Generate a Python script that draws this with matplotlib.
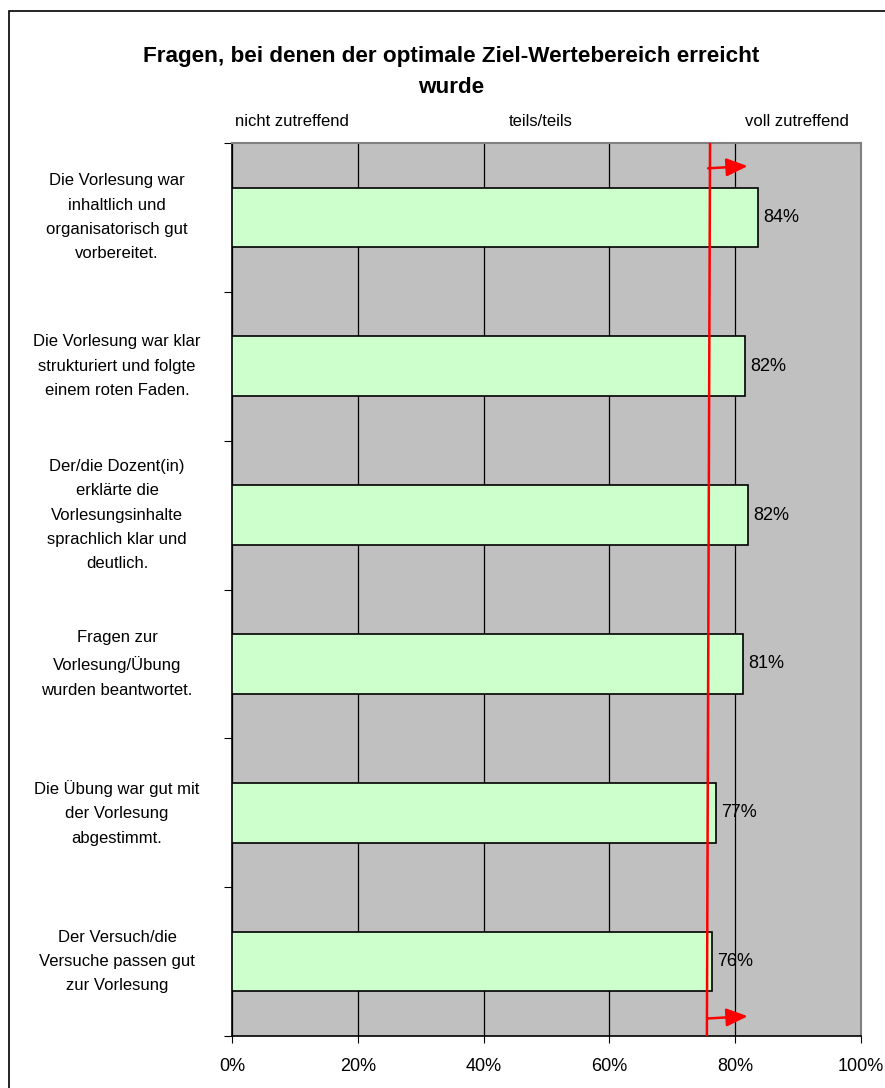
import matplotlib.pyplot as plt
from matplotlib.patches import Rectangle

# data
questions = [
    "Die Vorlesung war\ninhaltlich und\norganisatorisch gut\nvorbereitet.",
    "Die Vorlesung war klar\nstrukturiert und folgte\neinem roten Faden.",
    "Der/die Dozent(in)\nerklärte die\nVorlesungsinhalte\nsprachlich klar und\ndeutlich.",
    "Fragen zur\nVorlesung/Übung\nwurden beantwortet.",
    "Die Übung war gut mit\nder Vorlesung\nabgestimmt.",
    "Der Versuch/die\nVersuche passen gut\nzur Vorlesung",
]
values = [0.837, 0.816, 0.820, 0.812, 0.770, 0.763]
value_labels = ["84%", "82%", "82%", "81%", "77%", "76%"]
x_ticks = [0, 0.2, 0.4, 0.6, 0.8, 1.0]
x_tick_labels = ["0%", "20%", "40%", "60%", "80%", "100%"]
scale_labels = ["nicht zutreffend", "teils/teils", "voll zutreffend"]
target_top, target_bottom = 0.760, 0.755
arrow_end = 0.82

plt.rcParams['font.family'] = ['Liberation Sans', 'DejaVu Sans']

fig = plt.figure(figsize=(8.85, 10.88), dpi=100)
W, H = 885, 1088

# outer chart border (runs off the right and bottom edge)
fig.patches.append(Rectangle((9 / W, -0.1), 1.2, 1 - 11 / H + 0.1,
                             transform=fig.transFigure, fill=False,
                             edgecolor='black', linewidth=1.2))

ax = fig.add_axes([232 / W, 52 / H, 629 / W, 893 / H])
ax.set_facecolor('#c0c0c0')

pos = list(range(len(questions)))
ax.barh(pos, values, height=0.4, color='#ccffcc', edgecolor='black', linewidth=1.2, zorder=3)
for p, v, lab in zip(pos, values, value_labels):
    ax.text(v + 0.008, p, lab, va='center', ha='left', fontsize=13, zorder=5)

ax.set_xlim(0, 1)
ax.set_ylim(len(questions) - 0.5, -0.5)
ax.set_xticks(x_ticks)
ax.set_xticklabels(x_tick_labels, fontsize=13)
ax.tick_params(axis='x', direction='out', length=5, pad=11)
ax.xaxis.grid(True, color='black', linewidth=0.9, zorder=1)
ax.set_axisbelow(True)

ax.set_yticks([p + 0.5 for p in pos[:-1]] + [-0.5, len(questions) - 0.5])
ax.set_yticklabels([])
ax.tick_params(axis='y', direction='out', length=6)

for s in ['left', 'bottom']:
    ax.spines[s].set_color('black')
    ax.spines[s].set_linewidth(1.2)
for s in ['top', 'right']:
    ax.spines[s].set_color('#808080')
    ax.spines[s].set_linewidth(1.5)

# question labels on the left
for p, q in zip(pos, questions):
    y_fig = ax.transData.transform((0, p))
    y_fig = fig.transFigure.inverted().transform(y_fig)[1]
    fig.text(117 / W, y_fig, q, ha='center', va='center', fontsize=12,
             linespacing=1.78)

# target line with arrows
ax.plot([target_top, target_bottom], [-0.5, len(questions) - 0.5], color='red',
        linewidth=1.8, zorder=6, solid_capstyle='butt')
for y in [-0.345, len(questions) - 0.633]:
    ax.annotate('', xy=(arrow_end, y), xytext=(target_top - 0.003, y + 0.015),
                arrowprops=dict(arrowstyle='-|>,head_length=1.3,head_width=0.55',
                                color='red', linewidth=1.8, shrinkA=0, shrinkB=0),
                zorder=7)

# scale labels above the plot
fig.text(292 / W, 1 - 122 / H, scale_labels[0], ha='center', va='center', fontsize=12)
fig.text(541 / W, 1 - 122 / H, scale_labels[1], ha='center', va='center', fontsize=12)
fig.text(797 / W, 1 - 122 / H, scale_labels[2], ha='center', va='center', fontsize=12)

fig.text(451 / W, 1 - 72 / H,
         "Fragen, bei denen der optimale Ziel-Wertebereich erreicht\nwurde",
         ha='center', va='center', fontsize=16.2, fontweight='bold', linespacing=1.6)

fig.savefig('out.png', dpi=100, facecolor='white')
